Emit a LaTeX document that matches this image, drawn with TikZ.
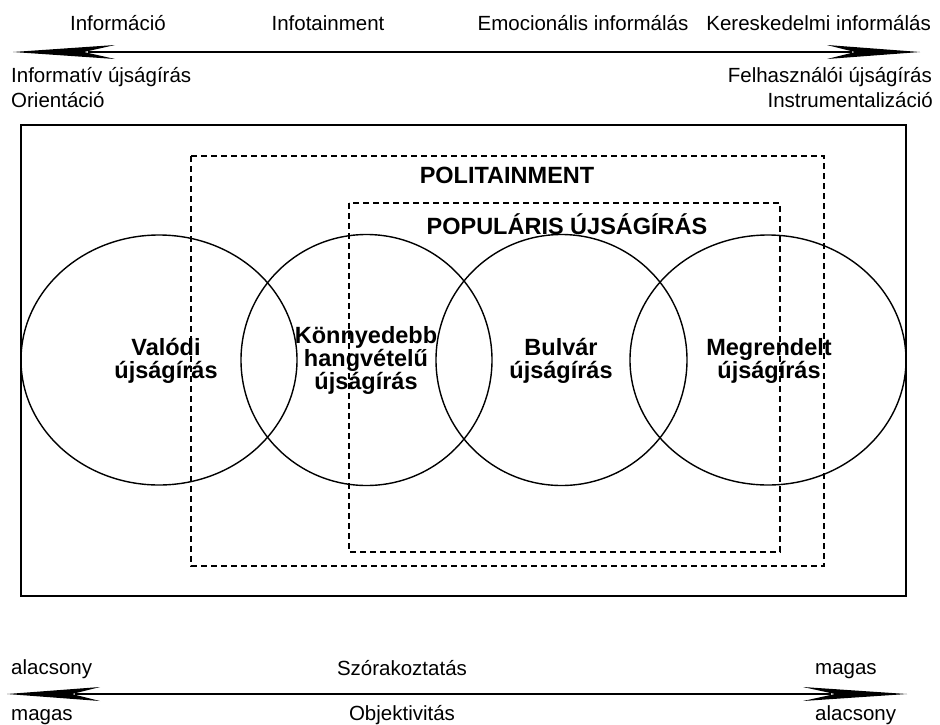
\documentclass[tikz,border=0pt]{standalone}
\usepackage{fontspec}
\setmainfont{Liberation Sans}
\usetikzlibrary{calc,shapes.geometric}
\begin{document}
\begin{tikzpicture}[x=1pt,y=-1pt,
  lab/.style={font=\fontsize{20.5}{24}\selectfont, inner sep=0pt},
  blab/.style={font=\bfseries\fontsize{23.5}{24}\selectfont, inner sep=0pt},
  ring/.style={draw, line width=1.4pt, circle, inner sep=0pt, minimum size=251pt},
  oval/.style={draw, line width=1.4pt, ellipse, inner sep=0pt, minimum width=276pt, minimum height=250pt},
  dbox/.style={draw, line width=1.3pt, dash pattern=on 6pt off 4pt},
  shaft/.style={line width=2.4pt},
  headfill/.style={fill=black}
]
\useasboundingbox (0,0) rectangle (940,724);

% ---- top arrow ----
\coordinate (tl) at (13,52);
\coordinate (tr) at (920,52);
\fill[headfill] (tl) -- ++(102,-7) -- ++(-31,7) -- ++(31,7) -- cycle;
\fill[headfill] (tr) -- ++(-93,-7) -- ++(28,7) -- ++(-28,7) -- cycle;
\draw[shaft] ($(tl)+(75,0)$) -- ($(tr)+(-68,0)$);

\node[lab, anchor=base] (t1) at (118,30) {Információ};
\node[lab, anchor=base] (t2) at (328,30) {Infotainment};
\node[lab, anchor=base] (t3) at (583,30) {Emocionális informálás};
\node[lab, anchor=base east] (t4) at (931,30) {Kereskedelmi informálás};
\node[lab, anchor=base west] (l1) at (11,82) {Informatív újságírás};
\node[lab, anchor=base west] (l2) at (11,107) {Orientáció};
\node[lab, anchor=base east] (r1) at (932,82) {Felhasználói újságírás};
\node[lab, anchor=base east] (r2) at (933,107) {Instrumentalizáció};

% ---- frames ----
\draw[line width=1.5pt] (21,125) rectangle (906,596);
\draw[dbox] (191,156) rectangle (824,566);
\draw[dbox] (349,203) rectangle (780,552);
\node[blab, anchor=base] (pol) at (507,183) {POLITAINMENT};
\node[blab, anchor=base] (pop) at (567,234) {POPULÁRIS ÚJSÁGÍRÁS};

% ---- circles ----
\node[oval] (c1) at (159,360) {};
\node[ring] (c2) at (366.5,360) {};
\node[ring] (c3) at (561.5,360) {};
\node[oval] (c4) at (768,360) {};

\node[blab, anchor=base] (v1) at (166,355) {Valódi};
\node[blab, anchor=base] (v2) at (166,378) {újságírás};
\node[blab, anchor=base] (k1) at (366,343) {Könnyedebb};
\node[blab, anchor=base] (k2) at (366,366) {hangvételű};
\node[blab, anchor=base] (k3) at (366,389) {újságírás};
\node[blab, anchor=base] (b1) at (561,355) {Bulvár};
\node[blab, anchor=base] (b2) at (561,378) {újságírás};
\node[blab, anchor=base] (m1) at (769,355) {Megrendelt};
\node[blab, anchor=base] (m2) at (769,378) {újságírás};

% ---- bottom arrow ----
\coordinate (bl) at (7,694);
\coordinate (br) at (907,694);
\fill[headfill] (bl) -- ++(93,-7) -- ++(-28,7) -- ++(28,7) -- cycle;
\fill[headfill] (br) -- ++(-104,-7) -- ++(32,7) -- ++(-32,7) -- cycle;
\draw[shaft] ($(bl)+(68,0)$) -- ($(br)+(-76,0)$);

\node[lab, anchor=base west] (b_l1) at (11,674) {alacsony};
\node[lab, anchor=base west] (b_l2) at (11,720) {magas};
\node[lab, anchor=base] (b_c1) at (402,675) {Szórakoztatás};
\node[lab, anchor=base] (b_c2) at (402,720) {Objektivitás};
\node[lab, anchor=base west] (b_r1) at (815,674) {magas};
\node[lab, anchor=base west] (b_r2) at (815,720) {alacsony};
\end{tikzpicture}
\end{document}
